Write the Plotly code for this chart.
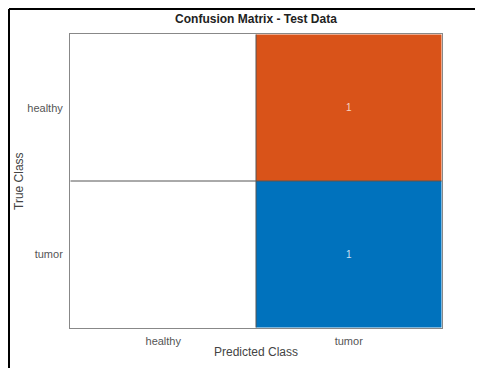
import plotly.graph_objects as go

# confusion matrix data (rows = true class, cols = predicted class)
classes = ["healthy", "tumor"]
counts = [[0, 1],
          [0, 1]]

# page body adds an 8px offset, so the figure is a bit smaller than the window
W, H = 475, 360
ml, mr, mt, mb = 62, 41, 26, 40

# colour code: 0 = empty, 1 = correct (diagonal), 2 = misclassified
codes = [[0 if counts[i][j] == 0 else (1 if i == j else 2)
          for j in range(len(classes))] for i in range(len(classes))]

fig = go.Figure(go.Heatmap(
    z=codes, x=classes, y=classes,
    zmin=0, zmax=2,
    colorscale=[[0, "#ffffff"], [0.333, "#ffffff"],
                [0.333, "#0072BD"], [0.666, "#0072BD"],
                [0.666, "#D95319"], [1, "#D95319"]],
    showscale=False, hoverinfo="skip",
))

txt_col = {1: "#c8e0f2", 2: "#f5d3c2"}
for i, t in enumerate(classes):
    for j, p in enumerate(classes):
        if counts[i][j]:
            fig.add_annotation(x=p, y=t, text=str(counts[i][j]), showarrow=False,
                               font=dict(size=10, color=txt_col[codes[i][j]],
                                         family="Liberation Sans, Arial"))

# cell grid lines
fig.add_shape(type="line", x0=0.5, x1=0.5, y0=-0.5, y1=1.5, line=dict(color="#555555", width=1))
fig.add_shape(type="line", x0=-0.5, x1=1.5, y0=0.5, y1=0.5, line=dict(color="#555555", width=1))

# outer figure border (top and left)
pw, ph = W - ml - mr, H - mt - mb
x_left = (1 - ml) / pw
y_top = 1 + (mt - 1) / ph
fig.add_shape(type="line", xref="paper", yref="paper", x0=x_left, x1=x_left,
              y0=-mb / ph - 0.1, y1=y_top, line=dict(color="black", width=2))
fig.add_shape(type="line", xref="paper", yref="paper", x0=x_left, x1=(W - ml) / pw + 0.1,
              y0=y_top, y1=y_top, line=dict(color="black", width=2))

# axis titles placed as annotations
fig.add_annotation(xref="paper", yref="paper", x=0.5, y=-24 / ph, yanchor="middle",
                   text="Predicted Class", showarrow=False,
                   font=dict(size=12, color="#444444"))
fig.add_annotation(xref="paper", yref="paper", x=(11 - ml) / pw, y=0.5, xanchor="center",
                   text="True Class", textangle=-90, showarrow=False,
                   font=dict(size=12, color="#444444"))

fig.update_layout(
    width=W, height=H,
    margin=dict(l=ml, r=mr, t=mt, b=mb),
    paper_bgcolor="white", plot_bgcolor="white",
    font=dict(family="Liberation Sans, Arial", color="#555555", size=11),
    title=dict(text="<b>Confusion Matrix - Test Data</b>", x=(ml + pw / 2) / W, xanchor="center",
               y=1 - 11 / H, yanchor="middle",
               font=dict(size=12, color="#222222")),
    xaxis=dict(showline=True, linecolor="#888888", mirror=True, ticks="",
               ticklabelstandoff=3, automargin=False,
               showgrid=False, zeroline=False, tickfont=dict(size=11)),
    yaxis=dict(autorange="reversed", showline=True, linecolor="#888888", mirror=True,
               ticks="", ticklabelstandoff=4, automargin=False,
               showgrid=False, zeroline=False, tickfont=dict(size=11)),
)

fig.write_html("out.html")
